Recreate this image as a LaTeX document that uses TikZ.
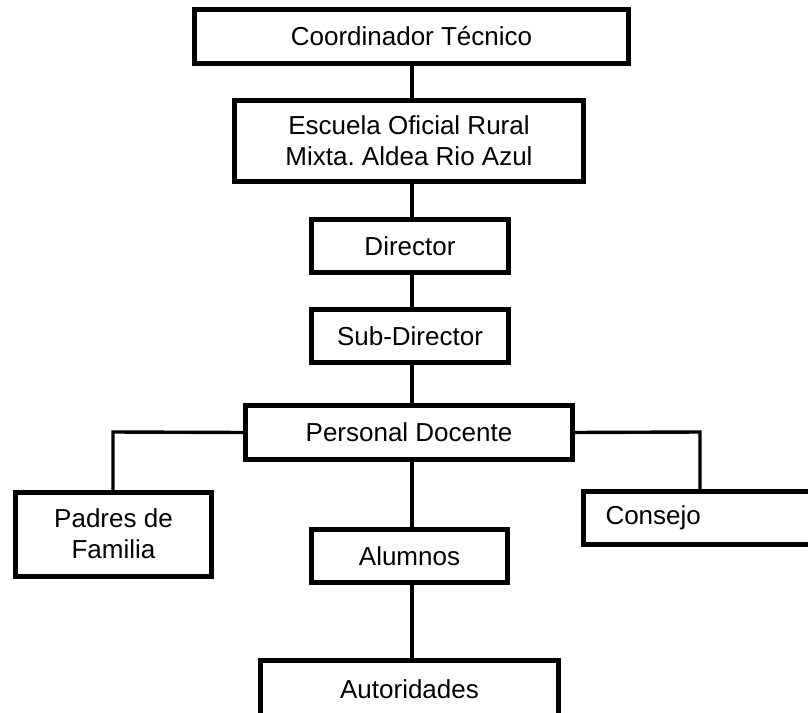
\documentclass[tikz,border=0pt]{standalone}
\usepackage{fontspec}
\setmainfont{Liberation Sans}
\frenchspacing
\begin{document}
\begin{tikzpicture}[x=1pt,y=-1pt,
  box/.style={draw=black,line width=5pt,fill=white,rectangle,inner sep=0pt,outer sep=0pt,
    align=center,font=\fontsize{26pt}{31pt}\selectfont},
  link/.style={draw=black,line width=3.4pt}]
\useasboundingbox (0,0) rectangle (808,712);
\clip (0,0) rectangle (808,712);
% spine
\coordinate (spine) at (412,0);
\coordinate (lft) at (113,432);
\coordinate (rgt) at (700,432);
% nodes (min size = outer size - line width)
\node[box,minimum width=434pt,minimum height=54pt] (coord) at (411.5,36.5) {Coordinador Técnico};
\node[box,minimum width=349pt,minimum height=81pt] (esc) at (409,141) {Escuela Oficial Rural\\Mixta. Aldea Rio Azul};
\node[box,minimum width=197pt,minimum height=53pt] (dir) at (410,246) {Director};
\node[box,minimum width=197pt,minimum height=53pt] (sub) at (410,336) {Sub-Director};
\node[box,minimum width=327pt,minimum height=54pt] (pd) at (409,432.5) {Personal Docente};
\node[box,minimum width=196pt,minimum height=84pt] (pad) at (113.5,534) {Padres de\\Familia};
\node[box,minimum width=233pt,minimum height=53pt,text width=189pt,align=left] (cons) at (700,518) {Consejo};
\node[box,minimum width=196pt,minimum height=53pt] (alu) at (409.5,556) {Alumnos};
\node[box,minimum width=298pt,minimum height=57pt] (aut) at (409.5,689) {Autoridades};
% connectors
\draw[link] (coord.south -| spine) -- (esc.north -| spine);
\draw[link] (esc.south -| spine) -- (dir.north -| spine);
\draw[link] (dir.south -| spine) -- (sub.north -| spine);
\draw[link] (sub.south -| spine) -- (pd.north -| spine);
\draw[link] (pd.south -| spine) -- (alu.north -| spine);
\draw[link] (alu.south -| spine) -- (aut.north -| spine);
\draw[link] (pd.west) -- (lft) -- (pad.north -| lft);
\draw[link] (pd.east) -- (rgt) -- (cons.north -| rgt);
\end{tikzpicture}
\end{document}
